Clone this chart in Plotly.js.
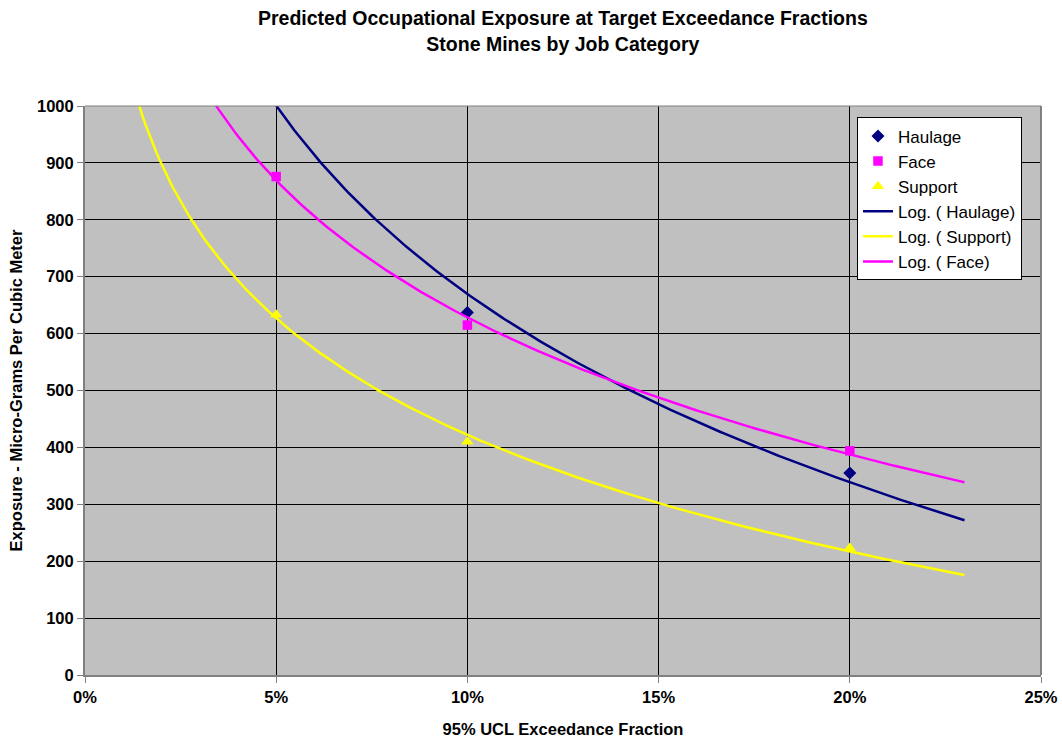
<!DOCTYPE html>
<html>
<head>
<meta charset="utf-8">
<script src="https://cdn.plot.ly/plotly-3.0.1.min.js"></script>
<style>
  html, body { margin: 0; padding: 0; background: #ffffff; }
  #chart { width: 1062px; height: 742px; }
</style>
</head>
<body>
<div id="chart"></div>
<script>
// Exceedance fractions (x) and predicted exposures by job category (µg/m³)
const fractions = [0.05, 0.10, 0.20];
const haulage = [1017, 637, 355];
const face = [876, 615, 394];
const support = [633, 410, 223];

// Trendline extent (Excel-style log trendline with forecast)
const trendStart = 0.01;
const trendEnd = 0.23;

const xTicks = [0, 0.05, 0.10, 0.15, 0.20, 0.25];
const yTicks = [0, 100, 200, 300, 400, 500, 600, 700, 800, 900, 1000];

// Least-squares fit of y = a*ln(x) + b
function logFit(xs, ys) {
  const n = xs.length;
  const lx = xs.map(Math.log);
  const mx = lx.reduce((s, v) => s + v, 0) / n;
  const my = ys.reduce((s, v) => s + v, 0) / n;
  let sxy = 0, sxx = 0;
  for (let i = 0; i < n; i++) {
    sxy += (lx[i] - mx) * (ys[i] - my);
    sxx += (lx[i] - mx) * (lx[i] - mx);
  }
  const a = sxy / sxx;
  return { a: a, b: my - a * mx };
}

function trendTrace(name, ys, color) {
  const f = logFit(fractions, ys);
  const xs = [], yv = [];
  const steps = 300;
  for (let i = 0; i <= steps; i++) {
    const x = trendStart + (trendEnd - trendStart) * i / steps;
    xs.push(x);
    yv.push(f.a * Math.log(x) + f.b);
  }
  return {
    x: xs, y: yv, type: 'scatter', mode: 'lines', name: name,
    line: { color: color, width: 2.5 }, legendgroup: name
  };
}

const NAVY = '#000080', MAGENTA = '#FF00FF', YELLOW = '#FFFF00';

const traces = [
  { x: fractions, y: haulage, type: 'scatter', mode: 'markers', name: 'Haulage',
    legendgroup: 'h', marker: { symbol: 'diamond', color: NAVY, size: 10 } },
  { x: fractions, y: face, type: 'scatter', mode: 'markers', name: 'Face',
    legendgroup: 'f', marker: { symbol: 'square', color: MAGENTA, size: 9.5 } },
  { x: fractions, y: support, type: 'scatter', mode: 'markers', name: 'Support',
    legendgroup: 's', marker: { symbol: 'triangle-up', color: YELLOW, size: 11 } },
  trendTrace('Log. ( Haulage)', haulage, NAVY),
  trendTrace('Log. ( Support)', support, YELLOW),
  trendTrace('Log. ( Face)', face, MAGENTA)
];

const FONT = 'Liberation Sans, Arial, sans-serif';

const layout = {
  width: 1062,
  height: 742,
  margin: { l: 85, r: 21, t: 106, b: 67 },
  paper_bgcolor: '#ffffff',
  plot_bgcolor: '#C0C0C0',
  font: { family: FONT, color: '#000000', size: 16.5 },
  title: {
    text: '<b>Predicted Occupational Exposure at Target Exceedance Fractions<br>Stone Mines by Job Category</b>',
    font: { family: FONT, size: 19.5, color: '#000000' },
    x: 0.53, xanchor: 'center', yref: 'container', y: 0.966, yanchor: 'middle'
  },
  xaxis: {
    range: [0, 0.25],
    tickvals: xTicks,
    ticktext: xTicks.map(v => '<b>' + Math.round(v * 100) + '%</b>'),
    showgrid: true, gridcolor: '#000000', gridwidth: 1,
    zeroline: false,
    showline: true, linecolor: '#808080', linewidth: 2, mirror: false,
    ticks: 'outside', ticklen: 6, tickcolor: '#808080', tickwidth: 1,
    tickfont: { family: FONT, size: 16.5, color: '#000000' },
    title: { text: '<b>95% UCL Exceedance Fraction</b>', font: { family: FONT, size: 16.5 }, standoff: 19 }
  },
  yaxis: {
    range: [0, 1000],
    tickvals: yTicks,
    ticktext: yTicks.map(v => '<b>' + v + '</b>'),
    showgrid: true, gridcolor: '#000000', gridwidth: 1,
    zeroline: false,
    showline: true, linecolor: '#808080', linewidth: 2,
    ticks: 'outside', ticklen: 6, tickcolor: '#808080', tickwidth: 1,
    tickfont: { family: FONT, size: 16.5, color: '#000000' },
    title: { text: '<b>Exposure - Micro-Grams Per Cubic Meter</b>', font: { family: FONT, size: 16.5 }, standoff: 10 }
  },
  showlegend: true,
  legend: {
    x: 0.8075, xanchor: 'left', y: 0.98, yanchor: 'top',
    bgcolor: '#ffffff', bordercolor: '#000000', borderwidth: 1,
    font: { family: FONT, size: 17, color: '#000000' },
    tracegroupgap: 1,
    traceorder: 'normal'
  },
  shapes: [
    { type: 'line', xref: 'paper', yref: 'paper', x0: 1, x1: 1, y0: 0, y1: 1,
      line: { color: '#808080', width: 2 } },
    { type: 'line', xref: 'paper', yref: 'paper', x0: 0, x1: 1, y0: 1, y1: 1,
      line: { color: '#808080', width: 1 } }
  ]
};

Plotly.newPlot('chart', traces, layout, { staticPlot: true, displayModeBar: false });
</script>
</body>
</html>
